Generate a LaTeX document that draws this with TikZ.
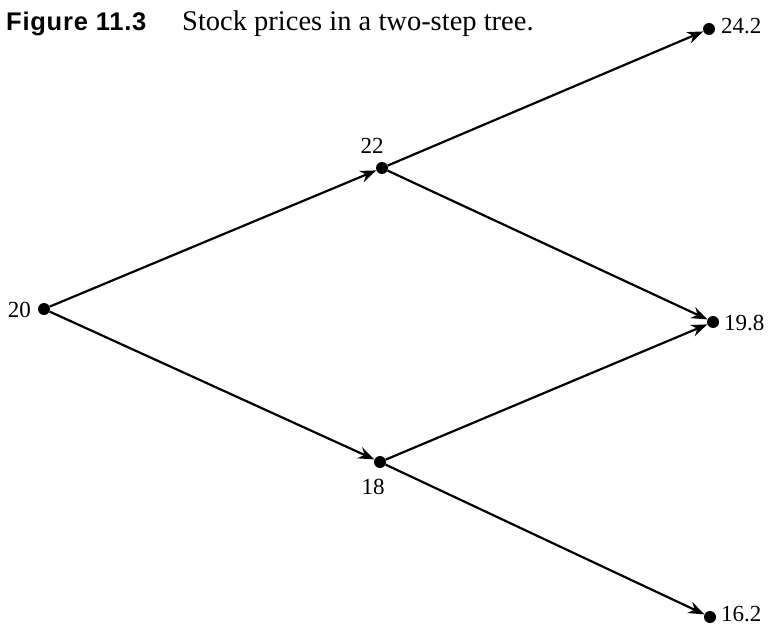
\documentclass[tikz,border=0pt]{standalone}
\usepackage{fontspec}
\setmainfont{Liberation Serif}
\newfontfamily\figfont[LetterSpace=3]{Liberation Sans}
\usetikzlibrary{arrows.meta}
\begin{document}
\begin{tikzpicture}[x=1pt,y=-1pt,
  dot/.style={circle,fill=black,inner sep=0pt,minimum size=12pt},
  val/.style={inner sep=0pt,font=\fontsize{23}{26}\selectfont},
  edge/.style={line width=2.2pt,-{Stealth[length=16pt,width=12pt]}}]
\useasboundingbox (0,0) rectangle (769,626);
\node[anchor=base west,inner sep=0pt,font=\figfont\bfseries\fontsize{25.5}{28}\selectfont] (fig) at (6,31) {Figure 11.3};
\node[anchor=base west,inner sep=0pt,font=\fontsize{28.5}{30}\selectfont] (cap) at (182,31) {Stock prices in a two-step tree.};
\node[dot] (A) at (44,309) {};
\node[dot] (B) at (382,168) {};
\node[dot] (C) at (380,462) {};
\node[dot] (D) at (709,29) {};
\node[dot] (E) at (713,322) {};
\node[dot] (F) at (710,617) {};
\node[val,anchor=east] (tA) at (31,310) {20};
\node[val] (tB) at (372,146) {22};
\node[val] (tC) at (373,487) {18};
\node[val,anchor=west] (tD) at (721,26) {24.2};
\node[val,anchor=west] (tE) at (724,323) {19.8};
\node[val,anchor=west] (tF) at (721,614) {16.2};
\draw[edge] (A) -- (B);
\draw[edge] (A) -- (C);
\draw[edge] (B) -- (D);
\draw[edge] (B) -- (E);
\draw[edge] (C) -- (E);
\draw[edge] (C) -- (F);
\end{tikzpicture}
\end{document}
